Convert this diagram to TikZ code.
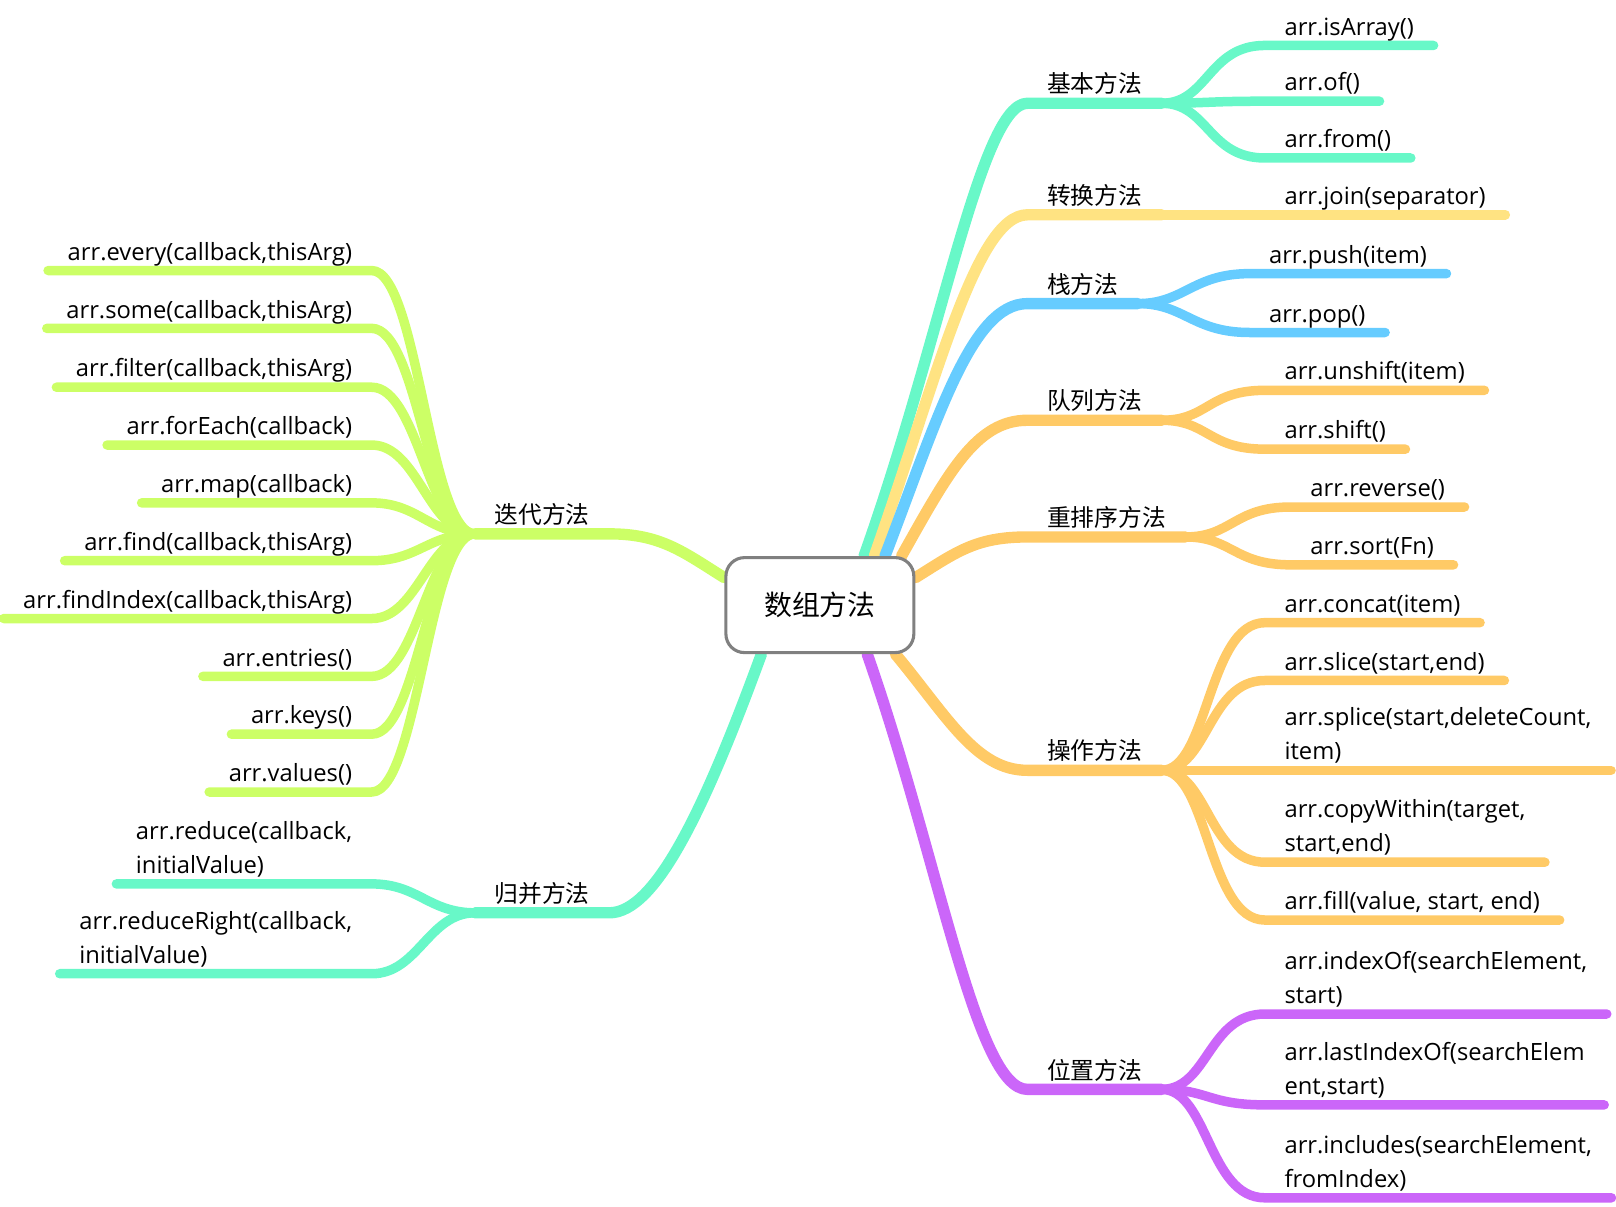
\documentclass[tikz,border=0pt]{standalone}
\usepackage{fontspec}
\setmainfont{Open Sans}
\newfontfamily\cjk{Noto Sans CJK SC}
\usepackage{tikz}
\usetikzlibrary{backgrounds}
\definecolor{mmteal}{HTML}{68F8C8}
\definecolor{mmyellow}{HTML}{FFE382}
\definecolor{mmblue}{HTML}{66CCFF}
\definecolor{mmorange}{HTML}{FFCA66}
\definecolor{mmpurple}{HTML}{CB66F9}
\definecolor{mmlime}{HTML}{CCFF66}
\definecolor{mmgray}{HTML}{808080}

\begin{document}
\begin{tikzpicture}[x=0.5pt, y=-0.5pt,
    leaf/.style={inner xsep=9.5pt, inner ysep=5pt, outer sep=0pt, text depth=0pt,
        align=left, font=\fontsize{11.5}{16.5}\selectfont},
    topic/.style={leaf, font=\cjk\fontsize{11.5}{16.5}\selectfont},
    branch/.style={line width=5.5pt, line cap=round, line join=round},
    twig/.style={line width=4.6pt, line cap=round, line join=round}]
    \useasboundingbox (0,0) rectangle (1565,1168);
    % 中心主题
    \node[draw=mmgray, line width=1.5pt, rounded corners=9pt, fill=white,
        minimum width=91pt, minimum height=46pt,
        font=\cjk\fontsize{13.5}{16}\selectfont] (root) at (794,586) {数组方法};
    % 分支主题
    \node[topic, anchor=south west] (basic) at (995,100) {基本方法};
    \node[topic, anchor=south west] (conv) at (995,208) {转换方法};
    \node[topic, anchor=south west] (stack) at (995,294) {栈方法};
    \node[topic, anchor=south west] (queue) at (995,407) {队列方法};
    \node[topic, anchor=south west] (sort) at (995,520) {重排序方法};
    \node[topic, anchor=south west] (oper) at (995,746) {操作方法};
    \node[topic, anchor=south west] (pos) at (995,1055) {位置方法};
    \node[topic, anchor=south west] (iter) at (460,517) {迭代方法};
    \node[topic, anchor=south west] (merge) at (460,884) {归并方法};
    % 子主题
    \foreach \y/\t [count=\i] in {44/arr.isArray(), 98/arr.of(), 153/arr.from()}
        \node[leaf, anchor=south west] (basic\i) at (1225,\y) {\t};
    \node[leaf, anchor=south west] (conv1) at (1225,208) {arr.join(separator)};
    \foreach \y/\t [count=\i] in {265/arr.push(item), 322/arr.pop()}
        \node[leaf, anchor=south west] (stack\i) at (1210,\y) {\t};
    \foreach \y/\t [count=\i] in {378/arr.unshift(item), 435/arr.shift()}
        \node[leaf, anchor=south west] (queue\i) at (1225,\y) {\t};
    \foreach \y/\t [count=\i] in {491/arr.reverse(), 547/arr.sort(Fn)}
        \node[leaf, anchor=south west] (sort\i) at (1250,\y) {\t};
    \foreach \y/\t [count=\i] in {603/arr.concat(item), 659/{arr.slice(start,end)},
        746/{arr.splice(start,deleteCount,\\item)}, 835/{arr.copyWithin(target,\\start,end)},
        891/{arr.fill(value, start, end)}}
        \node[leaf, anchor=south west] (oper\i) at (1225,\y) {\t};
    \foreach \y/\t [count=\i] in {982/{arr.indexOf(searchElement,\\start)},
        1070/{arr.lastIndexOf(searchElem\\ent,start)},
        1160/{arr.includes(searchElement,\\fromIndex)}}
        \node[leaf, anchor=south west] (pos\i) at (1225,\y) {\t};
    \foreach \y/\t [count=\i] in {262/{arr.every(callback,thisArg)}, 318/{arr.some(callback,thisArg)},
        375/{arr.filter(callback,thisArg)}, 431/arr.forEach(callback), 487/arr.map(callback),
        543/{arr.find(callback,thisArg)}, 599/{arr.findIndex(callback,thisArg)},
        655/arr.entries(), 711/arr.keys(), 767/arr.values()}
        \node[leaf, anchor=south east] (iter\i) at (360,\y) {\t};
    \foreach \y/\t [count=\i] in {856/{arr.reduce(callback,\\initialValue)},
        943/{arr.reduceRight(callback,\\initialValue)}}
        \node[leaf, anchor=south east] (merge\i) at (360,\y) {\t};
    % 连线
    \begin{scope}[on background layer]
        \draw[branch, mmteal] (root.48) .. controls +(75,-210) and +(-45,0) .. (basic.south west) -- (basic.south east);
        \foreach \i in {1,2,3}
            \draw[twig, mmteal] (basic.south east) .. controls +(45,0) and +(-55,0) .. (basic\i.south west) -- (basic\i.south east);
        \draw[branch, mmyellow] (root.42) .. controls +(60,-170) and +(-50,0) .. (conv.south west) -- (conv.south east);
        \draw[twig, mmyellow] (conv.south east) -- (conv1.south west) -- (conv1.south east);
        \draw[branch, mmblue] (root.37) .. controls +(50,-130) and +(-55,0) .. (stack.south west) -- (stack.south east);
        \foreach \i in {1,2}
            \draw[twig, mmblue] (stack.south east) .. controls +(45,0) and +(-55,0) .. (stack\i.south west) -- (stack\i.south east);
        \draw[branch, mmorange] (root.31) .. controls +(45,-80) and +(-50,0) .. (queue.south west) -- (queue.south east);
        \foreach \i in {1,2}
            \draw[twig, mmorange] (queue.south east) .. controls +(45,0) and +(-55,0) .. (queue\i.south west) -- (queue\i.south east);
        \draw[branch, mmorange] (root.16) .. controls +(40,-25) and +(-50,0) .. (sort.south west) -- (sort.south east);
        \foreach \i in {1,2}
            \draw[twig, mmorange] (sort.south east) .. controls +(45,0) and +(-55,0) .. (sort\i.south west) -- (sort\i.south east);
        \draw[branch, mmorange] (root.-33) .. controls +(50,60) and +(-50,0) .. (oper.south west) -- (oper.south east);
        \foreach \i in {1,...,5}
            \draw[twig, mmorange] (oper.south east) .. controls +(45,0) and +(-55,0) .. (oper\i.south west) -- (oper\i.south east);
        \draw[branch, mmpurple] (root.-46) .. controls +(70,200) and +(-50,0) .. (pos.south west) -- (pos.south east);
        \foreach \i in {1,2,3}
            \draw[twig, mmpurple] (pos.south east) .. controls +(45,0) and +(-55,0) .. (pos\i.south west) -- (pos\i.south east);
        \draw[branch, mmlime] (root.164) .. controls +(-40,-25) and +(50,0) .. (iter.south east) -- (iter.south west);
        \foreach \i in {1,...,10}
            \draw[twig, mmlime] (iter.south west) .. controls +(-45,0) and +(45,0) .. (iter\i.south east) -- (iter\i.south west);
        \draw[branch, mmteal] (root.220) .. controls +(-55,150) and +(45,0) .. (merge.south east) -- (merge.south west);
        \foreach \i in {1,2}
            \draw[twig, mmteal] (merge.south west) .. controls +(-45,0) and +(45,0) .. (merge\i.south east) -- (merge\i.south west);
    \end{scope}
\end{tikzpicture}
\end{document}
